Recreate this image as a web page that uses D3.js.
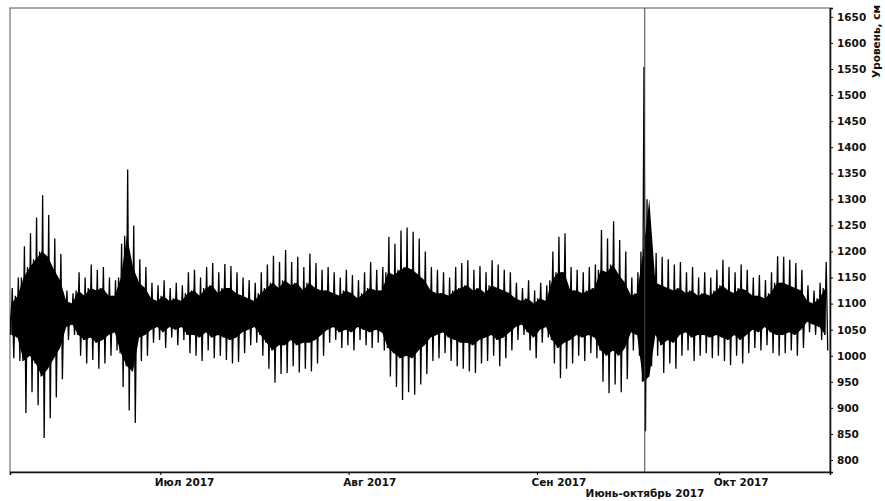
<!DOCTYPE html>
<html>
<head>
<meta charset="utf-8">
<script src="https://cdn.jsdelivr.net/npm/d3@7"></script>
<style>
  body { margin: 0; background: #fff; }
  svg text { font-family: "DejaVu Sans", Verdana, sans-serif; font-weight: bold; fill: #111; }
</style>
</head>
<body>
<svg id="chart" width="885" height="501"></svg>
<script>
// Sea level, June-October 2017 (cm). One entry per day starting 6 June 2017,
// four tide extremes per day: secondary high, secondary low, main high, main low
const startDay = new Date(2017, 5, 6);
const hiA = [1130,1150,1210,1235,1265,1308,1270,1225,1195,1125,1120,1160,1150,1175,1165,1170,1150,1145,1215,1357,
  1250,1185,1170,1140,1135,1145,1130,1140,1135,1160,1165,1150,1170,1178,1160,1176,1172,1160,1150,1145,
  1140,1160,1175,1192,1180,1203,1180,1190,1170,1196,1178,1165,1170,1160,1150,1165,1155,1145,1160,1180,
  1165,1170,1228,1215,1240,1246,1238,1225,1200,1170,1165,1160,1150,1170,1178,1183,1165,1172,1160,1183,
  1175,1165,1160,1140,1130,1145,1125,1140,1135,1200,1228,1235,1170,1165,1160,1170,1175,1241,1225,1258,
  1222,1200,1150,1160,1554,1200,1197,1190,1185,1175,1180,1160,1170,1150,1160,1150,1165,1184,1170,1160,
  1175,1165,1150,1155,1145,1160,1191,1190,1184,1178,1165,1135,1125,1140,1180];
const loA = [995,990,890,930,905,842,880,920,955,1030,1040,1000,985,992,975,985,1000,1010,940,895,
  871,990,1000,1025,1030,1015,1035,1020,1030,1005,1000,990,1010,995,1000,992,985,988,1005,1020,
  1025,1000,975,948,965,967,980,968,975,970,985,1000,1025,1030,1015,1020,1010,1030,1020,1015,
  1025,1010,960,940,915,930,925,945,965,990,995,1005,990,980,975,970,967,985,990,1000,
  980,995,1010,1030,1040,1010,995,1025,1035,985,957,975,985,1000,990,1005,995,950,928,945,
  930,955,1010,1000,855,980,1000,967,985,975,1000,1010,990,1000,1005,995,1000,990,982,1000,
  985,1005,1015,1010,1020,1005,1000,1005,1010,1000,1015,1045,1040,1030,1010];
const hiB = [1100,1115,1150,1170,1185,1200,1190,1165,1145,1105,1100,1125,1115,1130,1125,1130,1115,1115,1150,1230,
  1170,1140,1130,1110,1105,1115,1105,1110,1105,1120,1125,1115,1130,1135,1120,1130,1130,1120,1115,1110,
  1105,1120,1130,1140,1130,1145,1135,1140,1125,1140,1130,1125,1125,1120,1115,1125,1120,1110,1120,1130,
  1125,1125,1160,1155,1165,1170,1165,1155,1145,1125,1120,1120,1115,1125,1130,1135,1125,1130,1120,1135,
  1130,1125,1120,1110,1105,1110,1100,1110,1105,1145,1160,1160,1125,1125,1120,1125,1130,1165,1160,1175,
  1155,1140,1115,1120,1200,1300,1140,1135,1130,1125,1130,1120,1125,1115,1120,1115,1125,1135,1125,1120,
  1130,1125,1115,1115,1110,1120,1140,1140,1135,1130,1125,1105,1100,1110,1130];
const loB = [1040,1035,990,1000,985,960,975,995,1015,1055,1060,1040,1030,1035,1025,1030,1040,1045,1005,980,
  970,1035,1040,1050,1055,1045,1055,1050,1055,1040,1040,1035,1045,1035,1040,1035,1030,1035,1045,1050,
  1055,1040,1025,1010,1020,1020,1030,1020,1025,1025,1030,1040,1050,1055,1045,1050,1045,1055,1050,1045,
  1050,1045,1015,1005,995,1000,995,1010,1020,1035,1040,1045,1035,1030,1025,1025,1020,1030,1035,1040,
  1030,1035,1045,1055,1060,1045,1035,1050,1055,1030,1015,1025,1030,1040,1035,1040,1035,1010,1000,1010,
  1000,1015,1045,1040,950,960,1040,1020,1030,1025,1040,1045,1035,1040,1040,1035,1040,1035,1030,1040,
  1030,1040,1050,1045,1055,1045,1040,1040,1045,1040,1050,1065,1060,1055,1040];
const yTicks = [800,850,900,950,1000,1050,1100,1150,1200,1250,1300,1350,1400,1450,1500,1550,1600,1650];
const monthTicks = [new Date(2017, 6, 1), new Date(2017, 7, 1), new Date(2017, 8, 1), new Date(2017, 9, 1)];
const monthLabels = ["Июл 2017", "Авг 2017", "Сен 2017", "Окт 2017"];
const markerDate = new Date(2017, 8, 18, 18);
const xTitle = "Июнь-октябрь 2017";
const yTitle = "Уровень, см";

// flatten to one time series
const series = [];
const days = [];
hiA.forEach((h, i) => {
  const t = hr => new Date(startDay.getTime() + (i * 24 + hr) * 3600e3);
  series.push({ date: t(3), level: hiB[i] });
  series.push({ date: t(9), level: loB[i] });
  series.push({ date: t(15), level: hiA[i] });
  series.push({ date: t(21), level: loA[i] });
  days.push({ date: t(12), lo: loB[i], hi: hiB[i] });
});

const margin = { top: 8, right: 55, bottom: 29, left: 10 };
const width = 885 - margin.left - margin.right;
const height = 501 - margin.top - margin.bottom;

const svg = d3.select("#chart");
const chart = svg.append("g").attr("transform", `translate(${margin.left},${margin.top})`);

const x = d3.scaleTime()
  .domain([new Date(2017, 5, 6, 6), new Date(2017, 9, 19, 6)])
  .range([0, width]);

const y = d3.scaleLinear()
  .domain([777, 1667])
  .range([height, 0]);

chart.append("clipPath").attr("id", "clip")
  .append("rect").attr("width", width).attr("height", height);

// frame
chart.append("rect")
  .attr("width", width).attr("height", height)
  .attr("fill", "none").attr("stroke", "#555").attr("stroke-width", 1);

// dense core of the oscillation (range of the smaller daily tide)
const core = d3.area()
  .x(d => x(d.date))
  .y0(d => y(d.lo))
  .y1(d => y(d.hi));

chart.append("path")
  .datum(days)
  .attr("clip-path", "url(#clip)")
  .attr("fill", "#000")
  .attr("d", core);

const line = d3.line()
  .x(d => x(d.date))
  .y(d => y(d.level));

chart.append("path")
  .datum(series)
  .attr("clip-path", "url(#clip)")
  .attr("fill", "none")
  .attr("stroke", "#000")
  .attr("stroke-width", 1.3)
  .attr("d", line);

// vertical marker
chart.append("line")
  .attr("x1", x(markerDate)).attr("x2", x(markerDate))
  .attr("y1", 0).attr("y2", height)
  .attr("stroke", "#444").attr("stroke-width", 1);

// right axis
const yAxis = chart.append("g")
  .attr("transform", `translate(${width},0)`)
  .call(d3.axisRight(y).tickValues(yTicks).tickSize(3).tickPadding(4).tickFormat(d3.format("d")));
yAxis.select(".domain").attr("stroke", "#111").attr("stroke-width", 1.6);
yAxis.selectAll("text").style("font-size", "10.5px").attr("fill", "#111");

// bottom axis
const xAxis = chart.append("g")
  .attr("transform", `translate(0,${height})`)
  .call(d3.axisBottom(x).tickValues(monthTicks).tickSize(3).tickPadding(4)
    .tickFormat((d, i) => monthLabels[i]));
xAxis.select(".domain").attr("stroke", "#111").attr("stroke-width", 1.6);
xAxis.selectAll("text")
  .style("font-size", "10.5px")
  .attr("text-anchor", "start")
  .attr("x", -6)
  .attr("fill", "#111");

// titles
svg.append("text")
  .attr("x", 645).attr("y", 497)
  .attr("text-anchor", "middle")
  .style("font-size", "10.5px")
  .text(xTitle);

svg.append("text")
  .attr("transform", "translate(880,5) rotate(-90)")
  .attr("text-anchor", "end")
  .style("font-size", "10.5px")
  .text(yTitle);
</script>
</body>
</html>
